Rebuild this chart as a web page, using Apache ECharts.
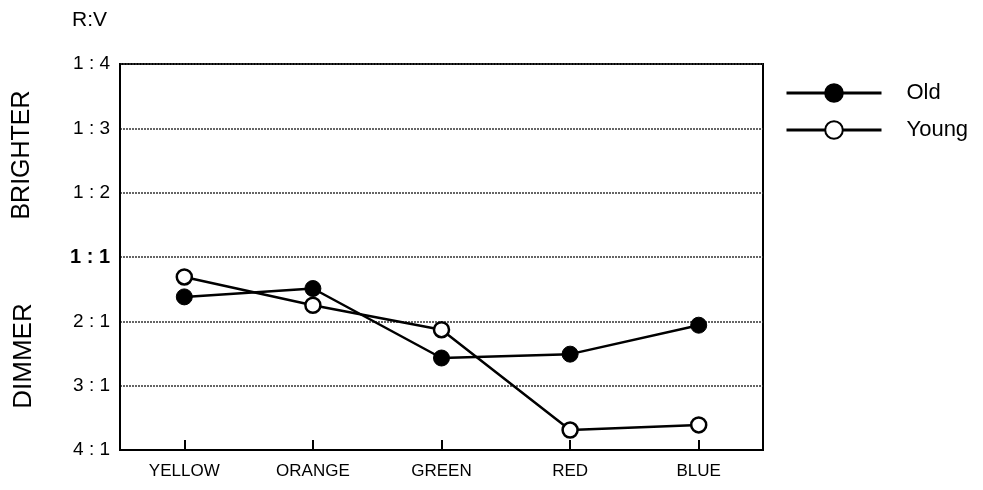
<!DOCTYPE html>
<html>
<head>
<meta charset="utf-8">
<script src="https://cdn.jsdelivr.net/npm/echarts@6/dist/echarts.min.js"></script>
<style>html,body{margin:0;padding:0;background:#fff;}#c{width:983px;height:490px;}</style>
</head>
<body>
<div id="c"></div>
<script>
const categories = ["YELLOW", "ORANGE", "GREEN", "RED", "BLUE"];
const yTickLabels = ["4 : 1", "3 : 1", "2 : 1", "1 : 1", "1 : 2", "1 : 3", "1 : 4"];
const oldValues = [2.38, 2.51, 1.43, 1.49, 1.94];
const youngValues = [2.69, 2.25, 1.87, 0.31, 0.39];
const seriesNames = ["Old", "Young"];

const FONT = "'Liberation Sans', Arial, Helvetica, sans-serif";
const chart = echarts.init(document.getElementById('c'), null, {renderer: 'canvas'});
chart.setOption({
  animation: false,
  backgroundColor: '#fff',
  textStyle: {fontFamily: FONT, color: '#000'},
  grid: {left: 120, right: 220, top: 64, bottom: 40, show: true, borderColor: '#000', borderWidth: 2, backgroundColor: 'transparent'},
  xAxis: {
    type: 'category', data: categories, boundaryGap: true,
    axisLine: {show: true, lineStyle: {color: '#000', width: 2}},
    axisTick: {show: true, alignWithLabel: true, inside: true, length: 10, lineStyle: {color: '#000', width: 2}},
    axisLabel: {fontSize: 17, color: '#000', margin: 13, fontFamily: FONT},
    splitLine: {show: false}
  },
  yAxis: {
    type: 'value', min: 0, max: 6, interval: 1,
    axisLine: {show: true, lineStyle: {color: '#000', width: 2}},
    axisTick: {show: false},
    axisLabel: {
      margin: 10, fontSize: 19, color: '#000', fontFamily: FONT,
      formatter: function (v) { const s = yTickLabels[Math.round(v)]; return v === 3 ? '{b|' + s + '}' : s; },
      rich: {b: {fontWeight: 'bold', fontSize: 20, fontFamily: FONT, color: '#000'}}
    },
    splitLine: {show: true, lineStyle: {color: '#333', width: 1.5, type: [2, 1]}}
  },
  legend: {
    orient: 'vertical', left: 780, top: 77, itemWidth: 95, itemHeight: 22, itemGap: 15,
    lineStyle: {width: 3, color: '#000'},
    textStyle: {fontSize: 22, color: '#000', fontFamily: FONT, lineHeight: 22, padding: [0, 0, 0, 20]},
    data: seriesNames
  },
  series: [
    {
      name: seriesNames[0], type: 'line', data: oldValues,
      symbol: 'circle', symbolSize: 16, showAllSymbol: true,
      lineStyle: {color: '#000', width: 2.5},
      itemStyle: {color: '#000', borderColor: '#000', borderWidth: 1}
    },
    {
      name: seriesNames[1], type: 'line', data: youngValues,
      symbol: 'circle', symbolSize: 15, showAllSymbol: true,
      lineStyle: {color: '#000', width: 2.5},
      itemStyle: {color: '#fff', borderColor: '#000', borderWidth: 2.5}
    }
  ],
  graphic: [
    {type: 'text', left: 72, top: 10, style: {text: 'R:V', fontSize: 21, fill: '#000', fontFamily: FONT}},
    {type: 'text', x: 22, y: 155, rotation: Math.PI / 2, style: {text: 'BRIGHTER', fontSize: 25, fill: '#000', fontFamily: FONT, align: 'center', verticalAlign: 'middle'}},
    {type: 'text', x: 24, y: 356, rotation: Math.PI / 2, style: {text: 'DIMMER', fontSize: 26, fill: '#000', fontFamily: FONT, align: 'center', verticalAlign: 'middle'}}
  ]
});
</script>
</body>
</html>
